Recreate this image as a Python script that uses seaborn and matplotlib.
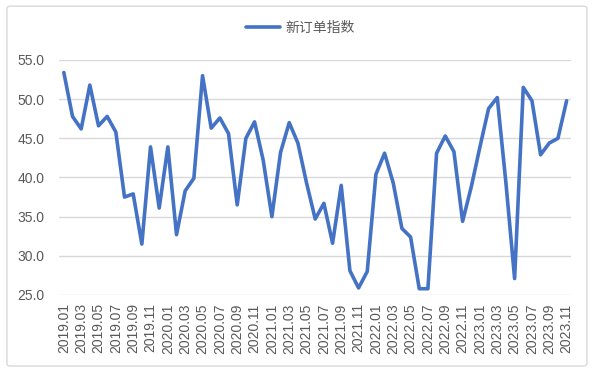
import matplotlib
matplotlib.use("Agg")
import matplotlib.pyplot as plt
from matplotlib.patches import FancyBboxPatch
import seaborn as sns
import pandas as pd
import numpy as np

months = [f"{y}.{m:02d}" for y in range(2019, 2024) for m in range(1, 13)][:59]

values = [
    53.4, 47.8, 46.2, 51.8, 46.6, 47.8, 45.8, 37.5, 37.9, 31.5, 43.9, 36.1,
    43.9, 32.7, 38.3, 39.9, 53.0, 46.3, 47.6, 45.6, 36.5, 45.0, 47.1, 42.2,
    35.0, 43.2, 47.0, 44.4, 39.3, 34.7, 36.7, 31.6, 39.0, 28.1, 25.9, 28.0,
    40.4, 43.1, 39.3, 33.5, 32.4, 25.8, 25.8, 43.1, 45.3, 43.3, 34.4, 38.8,
    43.9, 48.8, 50.2, 39.3, 27.1, 51.5, 49.8, 42.9, 44.4, 45.0, 49.8,
]
series_name = "新订单指数"
y_ticks = [25.0, 30.0, 35.0, 40.0, 45.0, 50.0, 55.0]

df = pd.DataFrame({"idx": np.arange(len(months)), "month": months, "value": values})

sns.set_theme(style="white")
plt.rcParams['font.family'] = ['Liberation Sans', 'Noto Sans CJK SC', 'DejaVu Sans']

fig = plt.figure(figsize=(6.01, 3.78), dpi=100)
ax = fig.add_axes([0.099, 0.2196, 0.851, 0.6217])

sns.lineplot(data=df, x="idx", y="value", ax=ax, color="#4472C4", linewidth=2.6,
             label=series_name, legend=False)

ax.set_xlim(-0.5, len(months) - 0.5)
ax.set_ylim(25, 55)
ax.set_yticks(y_ticks)
ax.set_yticklabels([f"{v:.1f}" for v in y_ticks])
ax.set_xticks(df["idx"][::2])
ax.set_xticklabels(df["month"][::2], rotation=90)
ax.tick_params(axis="both", length=0, colors="#595959", labelsize=10)
ax.tick_params(axis="x", pad=6)
ax.tick_params(axis="y", pad=11)
ax.grid(axis="y", color="#D9D9D9", linewidth=1.0)
ax.set_axisbelow(True)
for s in ax.spines.values():
    s.set_visible(False)
ax.set_xlabel("")
ax.set_ylabel("")

handles, labels = ax.get_legend_handles_labels()
fig.legend(handles, labels, loc="center", bbox_to_anchor=(0.5, 0.926), frameon=False,
           fontsize=10, labelcolor="#595959", handlelength=2.4, handletextpad=0.4,
           prop={"family": ["Noto Sans CJK SC", "DejaVu Sans"], "size": 10})

border = FancyBboxPatch((0.0116, 0.0317), 0.965, 0.952, boxstyle="round,pad=0,rounding_size=0.006",
                        transform=fig.transFigure, fill=False, edgecolor="#D9D9D9", linewidth=1.0)
fig.patches.append(border)

fig.savefig("out.png", dpi=100)
